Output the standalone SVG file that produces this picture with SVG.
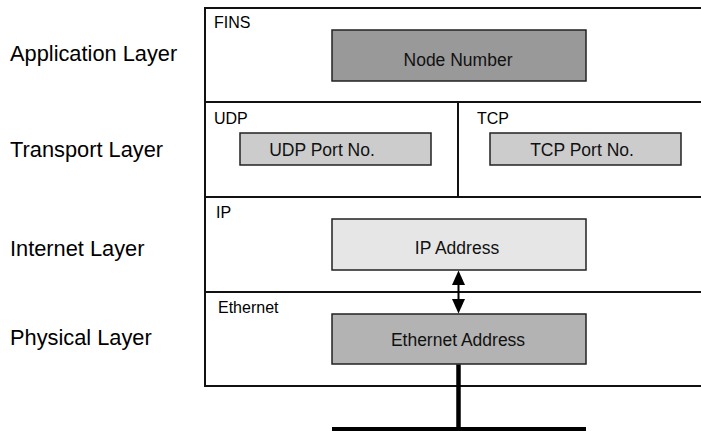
<svg xmlns="http://www.w3.org/2000/svg" width="701" height="431" viewBox="0 0 701 431">
<style>
.layer{font-family:"Liberation Sans",Arial,sans-serif;font-size:21.8px;fill:#000}
.sub{font-family:"Liberation Sans",Arial,sans-serif;font-size:16px;fill:#000}
.lbl{font-family:"Liberation Sans",Arial,sans-serif;font-size:17.5px;fill:#111;text-anchor:middle}
.frame{fill:none;stroke:#111;stroke-width:2}
.box{stroke:#222;stroke-width:1.5}
.head{fill:#000}
</style>
<rect width="701" height="431" fill="#fff"/>
<g id="layer-labels">
<text class="layer" x="10" y="61">Application Layer</text>
<text class="layer" x="10" y="157">Transport Layer</text>
<text class="layer" x="10" y="256">Internet Layer</text>
<text class="layer" x="10" y="345">Physical Layer</text>
</g>
<g id="stack-frame">
<rect class="frame" x="205" y="8" width="510" height="378"/>
<line class="frame" x1="205" y1="102" x2="715" y2="102"/>
<line class="frame" x1="205" y1="197" x2="715" y2="197"/>
<line class="frame" x1="205" y1="292" x2="715" y2="292"/>
<line class="frame" x1="458" y1="102" x2="458" y2="197"/>
</g>
<g id="fins">
<text class="sub" x="214" y="28">FINS</text>
<rect class="box" x="332" y="30" width="254" height="51" fill="#999999"/>
<text class="lbl" x="458" y="66">Node Number</text>
</g>
<g id="udp">
<text class="sub" x="214" y="124">UDP</text>
<rect class="box" x="240" y="133" width="191" height="32" fill="#cccccc"/>
<text class="lbl" x="322" y="156">UDP Port No.</text>
</g>
<g id="tcp">
<text class="sub" x="477" y="124">TCP</text>
<rect class="box" x="490" y="133" width="191" height="32" fill="#cccccc"/>
<text class="lbl" x="582" y="156">TCP Port No.</text>
</g>
<g id="ip">
<text class="sub" x="216" y="218">IP</text>
<rect class="box" x="332" y="219" width="254" height="51" fill="#e6e6e6"/>
<text class="lbl" x="457" y="254">IP Address</text>
</g>
<g id="ethernet">
<text class="sub" x="218" y="313">Ethernet</text>
<rect class="box" x="332" y="314" width="254" height="50" fill="#b3b3b3"/>
<text class="lbl" x="458" y="346">Ethernet Address</text>
</g>
<g id="connectors">
<line x1="458.5" y1="284" x2="458.5" y2="300" stroke="#000" stroke-width="2"/>
<path class="head" d="M458.5,270.5 L465,285 L452,285 Z"/>
<path class="head" d="M458.5,313.5 L465,299 L452,299 Z"/>
<line x1="458.5" y1="364.5" x2="458.5" y2="429" stroke="#000" stroke-width="4.5"/>
<line x1="332" y1="429" x2="586" y2="429" stroke="#000" stroke-width="4"/>
</g>
</svg>
